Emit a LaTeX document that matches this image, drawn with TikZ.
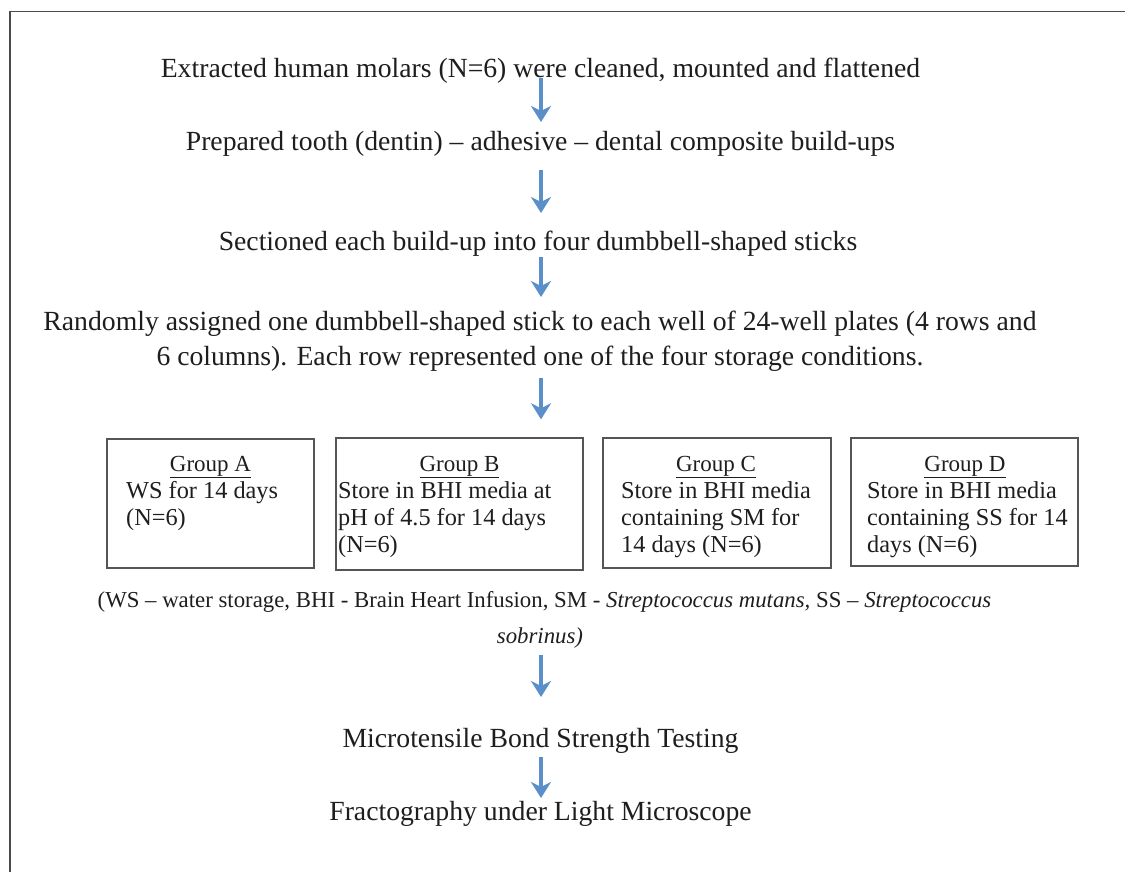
\documentclass[tikz,border=0pt]{standalone}
\usepackage{fontspec}
\setmainfont{Liberation Serif}
\usetikzlibrary{arrows.meta}
\definecolor{arrblue}{HTML}{5B8FC9}
\definecolor{framegray}{HTML}{4A4A4A}
\definecolor{boxgray}{HTML}{555555}
\definecolor{txt}{HTML}{1E1E1E}
\begin{document}
\begin{tikzpicture}[x=1pt,y=-1pt,
  main/.style={anchor=base, inner sep=0pt, text=txt, font=\fontsize{27.7}{35}\selectfont, align=center},
  capnote/.style={anchor=base, inner sep=0pt, text=txt, font=\fontsize{22.8}{36}\selectfont, align=center},
  grpbox/.style={draw=boxgray, line width=1.4pt, inner sep=0pt},
  grptitle/.style={anchor=base, inner sep=0pt, text=txt, font=\fontsize{23}{27}\selectfont},
  grpbody/.style={anchor=base west, inner sep=0pt, text=txt, font=\fontsize{24.3}{27}\selectfont, align=left},
  arr/.style={draw=arrblue, line width=4.5pt, -{Stealth[length=16pt, width=20pt, inset=5pt]}}
]
\useasboundingbox (0,0) rectangle (1125,872);
\fill[white] (0,0) rectangle (1125,872);
\draw[framegray, line width=1.6pt] (10,872) -- (10,11.5) -- (1125,11.5);

\node[main] (t1) at (540.5,78) {Extracted human molars (N=6) were cleaned, mounted and flattened};
\node[main] (t2) at (540.5,150) {Prepared tooth (dentin) – adhesive – dental composite build-ups};
\node[main] (t3) at (538,250) {Sectioned each build-up into four dumbbell-shaped sticks};
\node[main] (t4) at (540,365) {Randomly assigned one dumbbell-shaped stick to each well of 24-well plates (4 rows and\\6 columns). Each row represented one of the four storage conditions.};

\node[grpbox, minimum width=207, minimum height=129] (bA) at (210.5,503.5) {};
\node[grpbox, minimum width=247, minimum height=132] (bB) at (459.5,504) {};
\node[grpbox, minimum width=228, minimum height=130] (bC) at (717,503) {};
\node[grpbox, minimum width=227, minimum height=128] (bD) at (964.5,502) {};

\node[grptitle] (gA) at (210.5,471) {\underline{Group A}};
\node[grptitle] (gB) at (459.5,471) {\underline{Group B}};
\node[grptitle] (gC) at (716,471) {\underline{Group C}};
\node[grptitle] (gD) at (965,471) {\underline{Group D}};

\node[grpbody] (sA) at (126,525) {WS for 14 days\\(N=6)};
\node[grpbody] (sB) at (338,552) {Store in BHI media at\\pH of 4.5 for 14 days\\(N=6)};
\node[grpbody] (sC) at (621,552) {Store in BHI media\\containing SM for\\14 days (N=6)};
\node[grpbody] (sD) at (867,552) {Store in BHI media\\containing SS for 14\\days (N=6)};

\node[capnote] (note) at (544.5,643) {(WS – water storage, BHI - Brain Heart Infusion, SM - \textit{Streptococcus mutans,} SS – \textit{Streptococcus}\\\hspace*{-9pt}\textit{sobrinus)}};

\node[main] (t5) at (540.5,747) {Microtensile Bond Strength Testing};
\node[main] (t6) at (540.5,820) {Fractography under Light Microscope};

\draw[arr] ([xshift=0.5pt]t1.base) -- ([xshift=0.5pt,yshift=28pt]t2.base);
\draw[arr] ([xshift=0.5pt,yshift=-20pt]t2.base) -- ([xshift=3pt,yshift=37pt]t3.base);
\draw[arr] ([xshift=3pt,yshift=-7pt]t3.base) -- ([xshift=1pt,yshift=68pt]t4.base);
\draw[arr] ([xshift=1pt,yshift=-13pt]t4.base) -- ([xshift=1pt,yshift=18pt]t4.base |- bB.north);
\draw[arr] ([xshift=-3.5pt,yshift=-12pt]note.base) -- ([xshift=0.5pt,yshift=50pt]t5.base);
\draw[arr] ([xshift=0.5pt,yshift=-10pt]t5.base) -- ([xshift=0.5pt,yshift=22pt]t6.base);
\end{tikzpicture}
\end{document}
